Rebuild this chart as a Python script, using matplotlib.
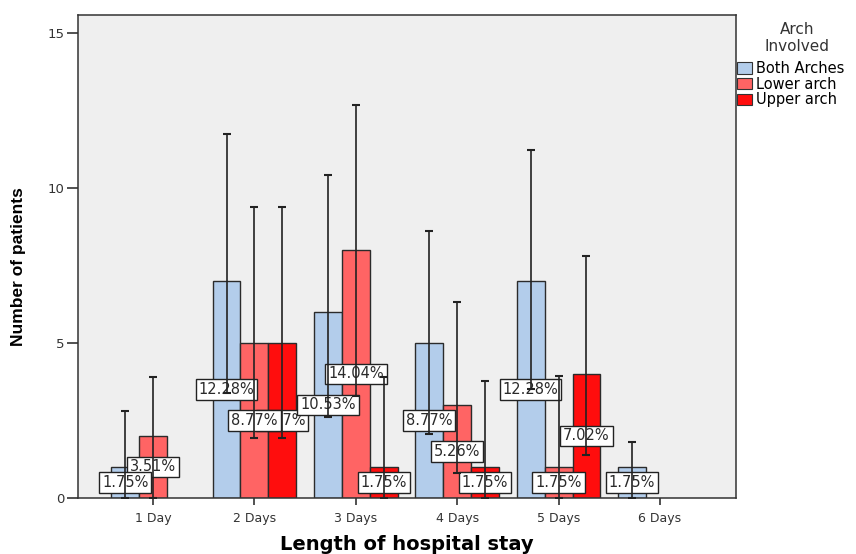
import numpy as np
import matplotlib
matplotlib.use("Agg")
from matplotlib import pyplot as plt
from matplotlib.patches import Patch

# counts per group (57 patients in total)
days = ["1 Day", "2 Days", "3 Days", "4 Days", "5 Days", "6 Days"]
series = ["Both Arches", "Lower arch", "Upper arch"]
both = [1, 7, 6, 5, 7, 1]
lower = [2, 5, 8, 3, 1, 0]
upper = [0, 5, 1, 1, 4, 0]

# error bar ends
both_hi = [2.8, 11.75, 10.42, 8.6, 11.23, 1.81]
both_lo = [0.0, 3.4, 2.6, 2.08, 3.5, 0.0]
lower_hi = [3.9, 9.4, 12.69, 6.32, 3.95, np.nan]
lower_lo = [0.0, 1.94, 3.3, 0.8, 0.0, np.nan]
upper_hi = [np.nan, 9.4, 3.9, 3.76, 7.82, np.nan]
upper_lo = [np.nan, 1.94, 0.0, 0.0, 1.4, np.nan]

colours = ["#B3CDEB", "#FF6464", "#FF0D0D"]

counts = [both, lower, upper]
his = [both_hi, lower_hi, upper_hi]
los = [both_lo, lower_lo, upper_lo]
total = sum(sum(c) for c in counts)

fig = plt.figure(figsize=(8.56, 5.54), dpi=100)
ax = fig.add_axes([0.0911, 0.1011, 0.7687, 0.8718])
ax.set_facecolor("#EFEFEF")

x = np.arange(1, len(days) + 1)
w = 0.275
offsets = [-w, 0, w]

for i in range(3):
    vals = np.array(counts[i], dtype=float)
    xs = x + offsets[i]
    keep = vals > 0
    ax.bar(xs[keep], vals[keep], width=w, color=colours[i],
           edgecolor="#2b2b2b", linewidth=1.0, zorder=2)
    hi = np.array(his[i])
    lo = np.array(los[i])
    ax.errorbar(xs[keep], vals[keep], yerr=[vals[keep] - lo[keep], hi[keep] - vals[keep]],
                fmt="none", ecolor="#222222", elinewidth=1.2, capsize=3,
                capthick=1.5, zorder=6)

# percentage labels, later series drawn underneath earlier ones
for i in [2, 1, 0]:
    for xi, v in zip(x + offsets[i], counts[i]):
        if v == 0:
            continue
        ax.text(xi, v / 2, "%.2f%%" % (100.0 * v / total), ha="center", va="center",
                fontsize=10.5, color="#2a2a2a", zorder=4 - i * 0.1,
                bbox=dict(boxstyle="square,pad=0.2", fc="white", ec="#222222", lw=1.0))

ax.set_xlim(0.26, 6.75)
ax.set_ylim(0, 15.58)
ax.set_xticks(x)
ax.set_xticklabels(days, fontsize=9, color="#333333")
ax.set_yticks([0, 5, 10, 15])
ax.set_yticklabels(["0", "5", "10", "15"], fontsize=9.5, color="#333333")
ax.tick_params(axis="y", length=8, width=1.2, pad=2, color="#333333")
ax.tick_params(axis="x", length=5, width=1.2, pad=5, color="#333333")
for s in ax.spines.values():
    s.set_color("#333333")
    s.set_linewidth(1.1)

ax.set_ylabel("Number of patients", fontsize=12.5, fontweight="bold",
              family=["Liberation Sans", "DejaVu Sans"])
ax.yaxis.set_label_coords(-0.079, 0.48)
ax.set_xlabel("Length of hospital stay", fontsize=14, fontweight="bold")
ax.xaxis.set_label_coords(0.5, -0.077)

# legend title sits apart from the entries, as in the SPSS output
fig.text(797 / 856, 1 - 38 / 554, "Arch\nInvolved", ha="center", va="center",
         fontsize=11, color="#333333", multialignment="center", linespacing=1.1)
handles = [Patch(facecolor=c, edgecolor="#333333", lw=0.8) for c in colours]
leg = fig.legend(handles, series, loc="upper left",
                 bbox_to_anchor=(737 / 856, 1 - 61 / 554), frameon=False,
                 fontsize=10.5, handlelength=1.0, handleheight=0.85,
                 handletextpad=0.3, labelspacing=0.05, borderpad=0, borderaxespad=0)

fig.savefig("out.png", dpi=100)
